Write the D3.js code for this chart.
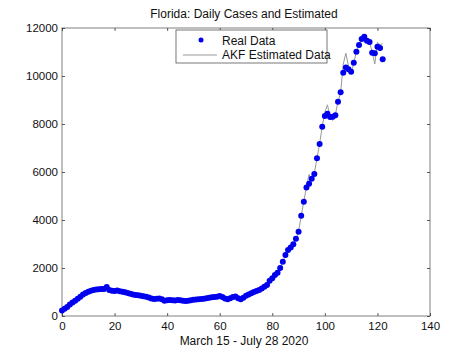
<!DOCTYPE html>
<html><head><meta charset="utf-8">
<script src="https://cdn.jsdelivr.net/npm/d3@7"></script>
<style>body{margin:0;background:#fff;} svg{display:block;font-family:"Liberation Sans",Arial,sans-serif;}</style>
</head><body><svg id="c" width="474" height="355"></svg>
<script>
const realData = [230,300,380,480,560,640,720,800,900,960,1010,1050,1080,1100,1110,1120,1130,1210,1080,1050,1040,
1060,1030,1010,990,960,930,900,880,860,840,820,800,770,730,710,720,730,700,640,660,
670,660,650,670,660,640,620,640,660,680,690,700,710,720,740,760,780,790,800,830,
790,730,700,740,790,810,740,700,760,840,900,950,1000,1040,1080,1150,1220,1290,1470,1570,
1710,1800,2000,2260,2540,2750,2850,2990,3220,3510,4180,4760,5350,5510,5720,5920,6570,7170,7890,8330,
8430,8290,8300,8360,8930,9320,10140,10350,10280,10180,10550,11010,11290,11540,11640,11470,11420,10970,10950,11220,
11170,10700];
const estimated = [230,300,380,480,560,640,720,800,900,960,1010,1050,1080,1100,1110,1120,1130,1210,1080,1050,1040,
1060,1030,1010,990,960,930,900,880,860,840,820,800,770,730,710,720,730,700,640,660,
670,660,650,670,660,640,620,640,660,680,690,700,710,720,740,760,780,790,800,830,
790,730,700,740,790,810,740,700,760,840,900,950,1000,1040,1080,1150,1220,1290,1470,1570,
1710,1800,2000,2260,2540,2750,2850,2990,3220,3510,4180,4760,5400,5900,5650,5950,6570,7170,7900,8500,
8800,8250,8150,8400,8930,9320,10500,10950,10400,10100,10550,11010,11290,11540,11640,11470,11420,11000,10500,11400,
11300,11350];
const xTicks = [0,20,40,60,80,100,120,140];
const yTicks = [0,2000,4000,6000,8000,10000,12000];
const titleText = "Florida: Daily Cases and Estimated";
const xLabel = "March 15 - July 28 2020";
const legendLabels = ["Real Data","AKF Estimated Data"];

const svg = d3.select("#c");
const L=62,R=430,T=28,B=316;
const x = d3.scaleLinear().domain([0,140]).range([L,R]);
const y = d3.scaleLinear().domain([0,12000]).range([B,T]);
const axisCol = "#808080";

// frame
svg.append("rect").attr("x",L).attr("y",T).attr("width",R-L).attr("height",B-T)
  .attr("fill","none").attr("stroke",axisCol).attr("stroke-width",1);

function styleAxis(g){
  g.select(".domain").remove();
  g.selectAll(".tick line").attr("stroke","#333").attr("stroke-width",0.8);
  g.selectAll(".tick text").attr("fill","#111").attr("font-size","11.5px").attr("font-family","Liberation Sans, Arial, sans-serif");
}
svg.append("g").attr("transform",`translate(0,${B})`)
  .call(d3.axisBottom(x).tickValues(xTicks).tickSize(-3).tickPadding(6)).call(styleAxis);
svg.append("g").attr("transform",`translate(0,${T})`)
  .call(d3.axisTop(x).tickValues(xTicks).tickSize(-3).tickFormat("")).call(styleAxis);
svg.append("g").attr("transform",`translate(${L},0)`)
  .call(d3.axisLeft(y).tickValues(yTicks).tickSize(-3).tickPadding(4).tickFormat(d3.format("d"))).call(styleAxis);
svg.append("g").attr("transform",`translate(${R},0)`)
  .call(d3.axisRight(y).tickValues(yTicks).tickSize(-3).tickFormat("")).call(styleAxis);

// estimated line
const line = d3.line().x((d,i)=>x(i)).y(d=>y(d));
svg.append("path").datum(estimated).attr("d",line).attr("fill","none")
  .attr("stroke","#999").attr("stroke-width",1);

// real data dots
svg.append("g").selectAll("circle").data(realData).join("circle")
  .attr("cx",(d,i)=>x(i)).attr("cy",d=>y(d)).attr("r",3).attr("fill","#0000ee");

// title
svg.append("text").attr("x",(L+R)/2-2).attr("y",18).attr("text-anchor","middle")
  .attr("font-size","12px").attr("fill","#111").text(titleText);
svg.append("text").attr("x",(L+R)/2-2).attr("y",345).attr("text-anchor","middle")
  .attr("font-size","12px").attr("fill","#111").text(xLabel);

// legend
const lg = svg.append("g");
lg.append("rect").attr("x",176).attr("y",30).attr("width",151).attr("height",33)
  .attr("fill","#fff").attr("stroke","#555").attr("stroke-width",0.8);
lg.append("circle").attr("cx",201).attr("cy",40).attr("r",2.5).attr("fill","#0000ee");
lg.append("line").attr("x1",183).attr("x2",217).attr("y1",55).attr("y2",55).attr("stroke","#999").attr("stroke-width",1);
lg.append("text").attr("x",222).attr("y",44.5).attr("font-size","12px").attr("fill","#111").text(legendLabels[0]);
lg.append("text").attr("x",222).attr("y",59).attr("font-size","12px").attr("fill","#111").text(legendLabels[1]);
</script></body></html>
